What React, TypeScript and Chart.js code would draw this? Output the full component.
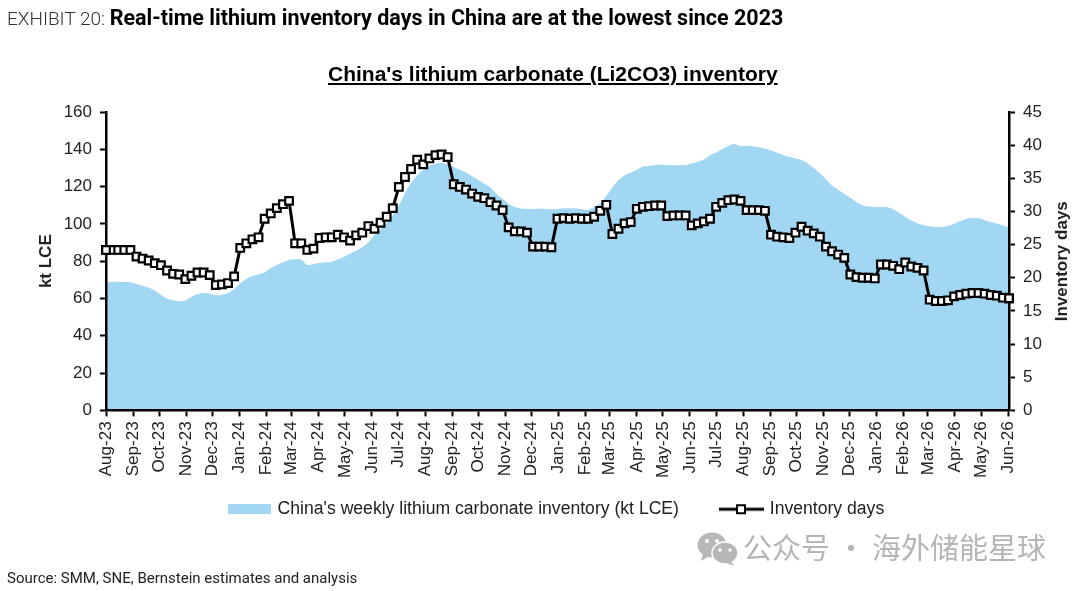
import { useEffect, useRef } from "react";
import { Chart, registerables } from "chart.js";

Chart.register(...registerables);

const monthLabels = [
  "Aug-23", "Sep-23", "Oct-23", "Nov-23", "Dec-23", "Jan-24", "Feb-24", "Mar-24", "Apr-24", "May-24", "Jun-24", "Jul-24",
  "Aug-24", "Sep-24", "Oct-24", "Nov-24", "Dec-24", "Jan-25", "Feb-25", "Mar-25", "Apr-25", "May-25", "Jun-25", "Jul-25",
  "Aug-25", "Sep-25", "Oct-25", "Nov-25", "Dec-25", "Jan-26", "Feb-26", "Mar-26", "Apr-26", "May-26", "Jun-26",
];

// days since 1 Aug 2023 at which each month starts
const monthDays = [
  0, 31, 61, 92, 122, 153, 184, 213, 244, 274, 305, 335,
  366, 397, 427, 458, 488, 519, 550, 578, 609, 639, 670, 700,
  731, 762, 792, 823, 853, 884, 915, 943, 974, 1004, 1035,
];

// weekly readings
const inventoryKt = [
  68.6, 68.9, 69, 68.8, 68.7, 67.8, 66.8, 65.8, 64.3, 62, 60, 59, 58.4, 59, 60.8, 62.4, 63, 62.5, 61.7, 62,
  63, 65, 68, 70.5, 72, 73, 74, 76.2, 78, 79.5, 80.7, 81, 80.8, 78, 78.4, 79, 79.4, 79.6, 81, 82.3,
  84, 85.6, 87.5, 90, 94, 97, 100.5, 104.5, 110, 116.5, 122, 126, 129, 131, 132.2, 132.7, 132, 130.5, 129, 127.5,
  125.5, 123.5, 121.5, 119.5, 116, 113.5, 110.8, 109, 108.2, 108, 108, 108.1, 108, 107.8, 108, 108.4, 108.4, 108.2, 108, 107.6,
  109, 111, 115, 119.5, 123.5, 126, 127.5, 129, 130.8, 131.2, 131.5, 131.7, 131.5, 131.4, 131.4, 131.5, 132.5, 133.2, 134.5, 136.8,
  138.3, 140, 141.8, 142.8, 141.6, 141.9, 141.6, 141.1, 140.4, 139.3, 138.1, 137, 136, 135.2, 134.2, 132.4, 130, 127.2, 124, 120.6,
  118.3, 116.2, 114, 111.8, 110, 109.4, 109, 109, 109, 107.8, 106, 103.8, 101.8, 100.3, 99.3, 98.8, 98.4, 98.4, 99, 100,
  101.4, 102.6, 103.1, 103.1, 102, 101, 100.2, 99.2, 98.3,
];

const inventoryDays = [
  24.2, 24.2, 24.2, 24.2, 24.2, 23.2, 22.9, 22.6, 22.2, 21.9, 21.1, 20.6, 20.5, 19.8, 20.3, 20.8, 20.8, 20.4, 18.9, 19,
  19.2, 20.2, 24.5, 25.2, 25.8, 26.1, 28.9, 29.7, 30.5, 31.1, 31.6, 25.2, 25.2, 24.2, 24.4, 26, 26.1, 26.1, 26.5, 26.1,
  25.6, 26.4, 26.8, 27.8, 27.4, 28.3, 29.2, 30.5, 33.7, 35.2, 36.4, 37.8, 37.1, 38, 38.5, 38.6, 38.2, 34.1, 33.7, 33.3,
  32.7, 32.2, 32, 31.4, 30.9, 30.2, 27.6, 27, 27, 26.8, 24.7, 24.7, 24.7, 24.6, 28.9, 29, 28.9, 29, 28.9, 28.9,
  29.2, 30.1, 31, 26.6, 27.4, 28.2, 28.4, 30.4, 30.7, 30.8, 30.9, 30.9, 29.3, 29.4, 29.4, 29.4, 27.9, 28.2, 28.5, 28.9,
  30.7, 31.3, 31.7, 31.8, 31.6, 30.2, 30.2, 30.2, 30.1, 26.5, 26.2, 26.1, 26, 26.8, 27.7, 27.1, 26.7, 26.2, 24.7, 24,
  23.5, 23, 20.5, 20.1, 20, 20, 19.9, 22, 22, 21.8, 21.3, 22.3, 21.7, 21.5, 21.1, 16.7, 16.5, 16.5, 16.6, 17.2,
  17.4, 17.6, 17.7, 17.7, 17.6, 17.4, 17.3, 17, 16.9,
];

const AREA_BLUE = "#a1d7f3";
const ARIAL = "'Liberation Sans', Arial, sans-serif";
const TICK_FONT = { family: ARIAL, size: 17 };
const LEGEND_FONT = { family: ARIAL, size: 17.6 };
const AXIS_TITLE_FONT = { family: ARIAL, size: 17, weight: "bold" as const };

const makeSwatch = () => {
  const c = document.createElement("canvas");
  c.width = 43;
  c.height = 10;
  const ctx = c.getContext("2d")!;
  ctx.fillStyle = AREA_BLUE;
  ctx.fillRect(0, 0, 43, 10);
  return c;
};

const makeLineSample = () => {
  const c = document.createElement("canvas");
  c.width = 45;
  c.height = 12;
  const ctx = c.getContext("2d")!;
  ctx.fillStyle = "#000";
  ctx.fillRect(0, 4.5, 45, 3);
  ctx.fillStyle = "#fff";
  ctx.strokeStyle = "#000";
  ctx.lineWidth = 2;
  ctx.fillRect(18, 2, 8, 8);
  ctx.strokeRect(18, 2, 8, 8);
  return c;
};

const edgePlugin = {
  id: "edgePlugin",
  // the legend's big item gap also pads it upward, so the month labels run into that gap;
  // labels get clipped to the scale box, so let the box extend down there
  afterLayout(chart: Chart) {
    const x = chart.scales.x;
    x.bottom = x.top + 80;
  },
  afterDraw(chart: Chart) {
    const { ctx, chartArea } = chart;
    // axis lines sit above the datasets, put the first and last marker back on top
    const meta = chart.getDatasetMeta(1);
    meta.data[0].draw(ctx);
    meta.data[meta.data.length - 1].draw(ctx);
    // right axis title reads bottom to top, which the scale option can't do
    ctx.save();
    ctx.translate(1028, (chartArea.top + chartArea.bottom) / 2);
    ctx.rotate(-Math.PI / 2);
    ctx.font = `bold ${AXIS_TITLE_FONT.size}px ${AXIS_TITLE_FONT.family}`;
    ctx.fillStyle = "#222";
    ctx.textAlign = "center";
    ctx.textBaseline = "middle";
    ctx.fillText("Inventory days", 0, 0);
    ctx.restore();
  },
};

const LithiumChart = () => {
  const chartRef = useRef<HTMLCanvasElement>(null);

  useEffect(() => {
    if (!chartRef.current) return;
    const swatch = makeSwatch();
    const lineSample = makeLineSample();

    const chart = new Chart(chartRef.current, {
      type: "line",
      data: {
        datasets: [
          {
            label: "China's weekly lithium carbonate inventory (kt LCE)",
            data: inventoryKt.map((y, i) => ({ x: i * 7, y })),
            yAxisID: "y",
            fill: "origin",
            backgroundColor: AREA_BLUE,
            borderWidth: 0,
            pointRadius: 0,
            tension: 0.3,
            order: 2,
          },
          {
            label: "Inventory days",
            data: inventoryDays.map((y, i) => ({ x: i * 7, y })),
            yAxisID: "y1",
            borderColor: "#000",
            borderWidth: 3,
            pointStyle: "rect",
            pointRadius: 5.4,
            pointBorderWidth: 2.2,
            pointBorderColor: "#000",
            pointBackgroundColor: "#fff",
            tension: 0,
            clip: false,
            order: 1,
          },
        ],
      },
      options: {
        responsive: false,
        animation: false,
        layout: { padding: { top: 112, bottom: 63 } },
        scales: {
          x: {
            type: "linear",
            min: 0,
            max: 1036,
            afterBuildTicks: (scale) => {
              scale.ticks = monthDays.map((value) => ({ value }));
            },
            afterFit: (scale) => {
              scale.height = 47;
            },
            grid: { drawOnChartArea: false, tickLength: 6, tickWidth: 2, tickColor: "#000" },
            border: { color: "#000", width: 2.5, z: 1 },
            ticks: {
              autoSkip: false,
              maxRotation: 90,
              minRotation: 90,
              padding: 5,
              color: "#222",
              font: TICK_FONT,
              callback: (_v, i) => monthLabels[i],
            },
          },
          y: {
            position: "left",
            min: 0,
            max: 160,
            afterFit: (scale) => {
              scale.width = 72;
            },
            grid: { drawOnChartArea: false, tickLength: 6, tickWidth: 2, tickColor: "#000" },
            border: { color: "#000", width: 2.5, z: 1 },
            title: { display: true, text: "kt LCE", color: "#222", font: AXIS_TITLE_FONT, padding: 2 },
            ticks: { stepSize: 20, padding: 8, color: "#222", font: TICK_FONT },
          },
          y1: {
            position: "right",
            min: 0,
            max: 45,
            afterFit: (scale) => {
              scale.width = 71;
            },
            grid: { drawOnChartArea: false, tickLength: 6, tickWidth: 2, tickColor: "#000" },
            border: { color: "#000", width: 2.5, z: 1 },
            ticks: { stepSize: 5, padding: 8, color: "#222", font: TICK_FONT },
          },
        },
        plugins: {
          title: { display: false },
          tooltip: { enabled: false },
          legend: {
            position: "bottom",
            labels: {
              usePointStyle: true,
              pointStyleWidth: 39,
              padding: 43,
              color: "#222",
              font: LEGEND_FONT,
              generateLabels: () => [
                { text: "China's weekly lithium carbonate inventory (kt LCE)", pointStyle: swatch, datasetIndex: 0, fontColor: "#222" },
                { text: "Inventory days", pointStyle: lineSample, datasetIndex: 1, fontColor: "#222" },
              ],
            },
          },
        },
      },
      plugins: [edgePlugin],
    });

    return () => chart.destroy();
  }, []);

  return (
    <canvas
      ref={chartRef}
      width={1046}
      height={591}
      style={{ position: "absolute", left: 34, top: 0 }}
    />
  );
};

const text = (style: React.CSSProperties): React.CSSProperties => ({
  position: "absolute",
  whiteSpace: "nowrap",
  ...style,
});

const App = () => (
  <div style={{ position: "absolute", left: 0, top: 0, width: 1080, height: 591, background: "#fff", overflow: "hidden" }}>
    <LithiumChart />
    <div style={text({ left: 7, top: 5, fontFamily: "Roboto, sans-serif", color: "#333" })}>
      <span style={{ fontWeight: 300, fontSize: 19 }}>EXHIBIT 20: </span>
      <span style={{ fontWeight: 700, fontSize: 21.5, color: "#000" }}>Real-time lithium inventory days in China are at the lowest since 2023</span>
    </div>
    <div style={text({ left: 328, top: 62, fontFamily: ARIAL, fontWeight: 700, fontSize: 21, color: "#000", textDecoration: "underline" })}>
      China's lithium carbonate (Li2CO3) inventory
    </div>
    <div style={text({ left: 7, top: 569, fontFamily: "Roboto, sans-serif", fontSize: 15, color: "#222" })}>
      Source: SMM, SNE, Bernstein estimates and analysis
    </div>
    <svg width="42" height="34" viewBox="0 0 42 34" style={{ position: "absolute", left: 697, top: 532 }}>
      <ellipse cx="15" cy="13" rx="14.5" ry="12.5" fill="#b7b7b7" />
      <path d="M6 21 L4 29 L13 24 Z" fill="#b7b7b7" />
      <ellipse cx="28" cy="21" rx="13" ry="11" fill="#b7b7b7" stroke="#fff" strokeWidth="1.5" />
      <path d="M34 29 L37 34 L29 31 Z" fill="#b7b7b7" />
      <circle cx="10" cy="9" r="2" fill="#fff" />
      <circle cx="20" cy="9" r="2" fill="#fff" />
      <circle cx="23" cy="18" r="1.7" fill="#fff" />
      <circle cx="33" cy="18" r="1.7" fill="#fff" />
    </svg>
    <div style={text({ left: 743, top: 525, fontFamily: "'Noto Sans CJK SC', sans-serif", fontSize: 29, color: "#b5b5b5" })}>
      公众号 · 海外储能星球
    </div>
  </div>
);

export default App;
